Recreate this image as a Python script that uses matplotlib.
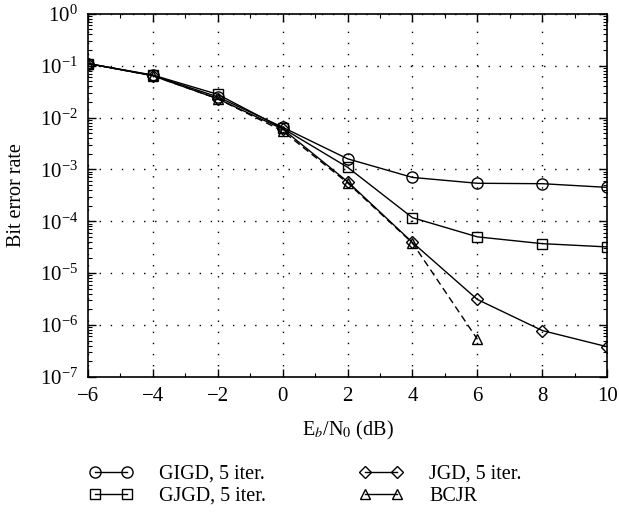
import matplotlib
matplotlib.use("Agg")
import matplotlib.pyplot as plt
from matplotlib.lines import Line2D
from matplotlib.ticker import LogLocator, NullFormatter, MultipleLocator, FuncFormatter

plt.rcParams['font.family'] = ['Liberation Serif', 'DejaVu Serif']
plt.rcParams['mathtext.fontset'] = 'stix'

# Eb/N0 (dB)
snr = [-6, -4, -2, 0, 2, 4, 6, 8, 10]
snr_bcjr = [-6, -4, -2, 0, 2, 4, 6]

# bit error rates
ber_gigd = [0.11, 0.065, 0.025, 0.0065, 1.6e-3, 7e-4, 5.4e-4, 5.3e-4, 4.5e-4]
ber_gjgd = [0.11, 0.066, 0.028, 0.0062, 1.1e-3, 1.17e-4, 5e-5, 3.7e-5, 3.2e-5]
ber_jgd = [0.11, 0.064, 0.023, 0.0060, 5.8e-4, 3.9e-5, 3.1e-6, 7.8e-7, 3.8e-7]
ber_bcjr = [0.11, 0.064, 0.023, 0.0055, 5.5e-4, 3.8e-5, 5.3e-7]
labels = ['GIGD, 5 iter.', 'GJGD, 5 iter.', 'JGD, 5 iter.', 'BCJR']

fig = plt.figure(figsize=(6.19, 5.12), dpi=100)
ax = fig.add_axes([0.142, 0.264, 0.839, 0.709])

mk = dict(color='black', lw=1.0, markerfacecolor='none', markeredgecolor='black',
          markeredgewidth=1.0)
ax.semilogy(snr, ber_gigd, marker='o', markersize=8, **mk)
ax.semilogy(snr, ber_gjgd, marker='s', markersize=7, **mk)
ax.semilogy(snr, ber_jgd, marker='D', markersize=6.5, **mk)
ax.semilogy(snr_bcjr, ber_bcjr, marker='^', markersize=7.5, ls='--', dashes=(5, 3), **mk)

ax.set_xlim(-6, 10)
ax.set_ylim(1e-7, 1)
ax.xaxis.set_major_locator(MultipleLocator(2))
ax.xaxis.set_minor_locator(MultipleLocator(1))
ax.yaxis.set_major_locator(LogLocator(base=10, numticks=20))
ax.yaxis.set_minor_locator(LogLocator(base=10, subs=range(2, 10), numticks=20))
ax.yaxis.set_minor_formatter(NullFormatter())
ax.xaxis.set_major_formatter(FuncFormatter(
    lambda v, p: ('\u2212%d' % abs(v)) if v < 0 else '%d' % v))

ax.tick_params(which='both', direction='in', top=True, right=True, labelsize=15)
ax.tick_params(which='major', length=6, width=1.0, pad=7)
ax.tick_params(which='minor', length=3, width=0.8)
ax.grid(True, which='major', ls=(0, (1, 7)), color='black', lw=1.0)
for s in ax.spines.values():
    s.set_linewidth(1.2)

ax.set_xlabel(r'E$_b$/N$_0$ (dB)', fontsize=14.5, labelpad=10)
ax.set_ylabel('Bit error rate', fontsize=14.5, labelpad=10)

handles = [Line2D([], [], marker='o', markersize=8, **mk),
           Line2D([], [], marker='s', markersize=7, **mk),
           Line2D([], [], marker='D', markersize=6.5, **mk),
           Line2D([], [], marker='^', markersize=7.5, **mk)]
fig.legend(handles, labels, loc='upper left', bbox_to_anchor=(0.13, 0.108),
           ncol=2, frameon=False, numpoints=2, fontsize=14.5, handlelength=2.2,
           columnspacing=4.6, labelspacing=0.15, handletextpad=1.3, borderaxespad=0)

fig.savefig('out.png', dpi=100)
